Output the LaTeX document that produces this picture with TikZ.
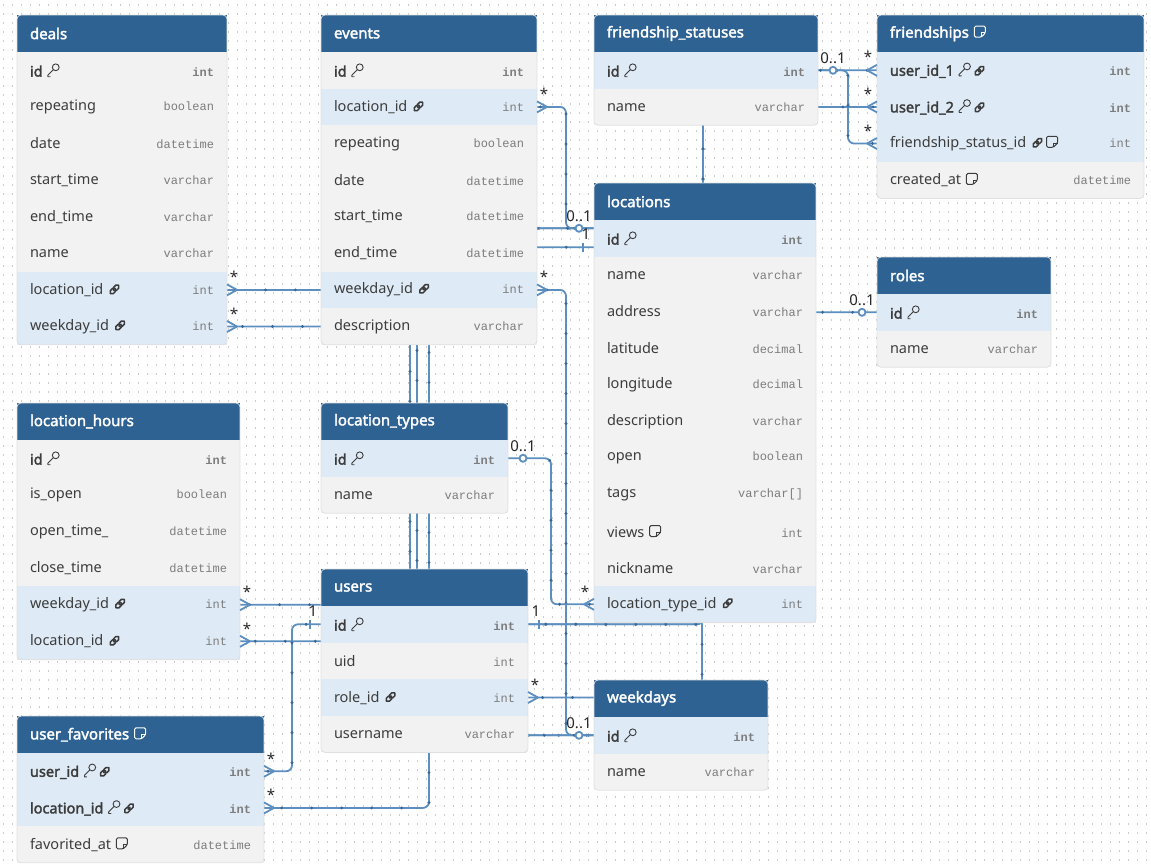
\documentclass[tikz,border=0pt]{standalone}
\usepackage{fontspec}
\usepackage{xcolor}
\newfontfamily\uifont{Noto Sans}[AutoFakeBold=2.2]
\newfontfamily\typefont{Liberation Mono}
\usetikzlibrary{positioning, calc, decorations.markings}
\definecolor{hdrcol}{RGB}{46,98,146}
\definecolor{rowcol}{RGB}{242,242,242}
\definecolor{hlcol}{RGB}{222,234,245}
\definecolor{linkcol}{RGB}{92,143,192}
\definecolor{dotcol}{RGB}{58,104,150}
\definecolor{txtcol}{RGB}{60,60,60}
\definecolor{typecol}{RGB}{125,125,125}
\pgfdeclarelayer{grid}
\pgfdeclarelayer{links}
\pgfsetlayers{grid,links,main}

% small icons
\newcommand{\pkicon}{\tikz[x=1pt,y=1pt,baseline=-0.5pt,line width=0.9pt,line cap=round,line join=round]{\draw (8.8,8.8) circle (3.4); \draw (6.4,6.4) -- (1,1) -- (1,-0.6) -- (3.2,-0.6);}}
\newcommand{\fkicon}{\tikz[x=1pt,y=1pt,baseline=-1pt,line width=1.5pt]{\draw[rounded corners=1.9pt,rotate=45] (0,-2.1) rectangle (6.8,2.1); \draw[rounded corners=1.9pt,rotate=45] (4.6,-2.1) rectangle (11.4,2.1);}}
\newcommand{\noteicon}{\tikz[x=1pt,y=1pt,baseline=-0.5pt,line width=1pt,line join=round]{\draw[rounded corners=1.4pt] (0,0) -- (0,11) -- (11,11) -- (11,4.2) -- (6.8,0) -- cycle; \draw (6.8,0) -- (6.8,4.2) -- (11,4.2);}}

% table: name, title, x, y, width, rows, fields
\newcommand{\dbtable}[7]{%
  \pgfmathsetmacro\tw{#5-26}
  \node[tblhead, minimum width=#5pt, text width=\tw pt] (#1) at (#3,#4) {#2};
  \foreach \f/\lbl/\typ/\kind [count=\i] in {#7} {
    \node[row\kind, minimum width=#5pt, text width=\tw pt] (#1-\f) at (#3,#4+37+\i*36.6-36.6)
      {\lbl\hfill{\typefont\fontsize{12}{12}\selectfont\color{typecol}\typ}};
  }
  \draw[tblframe] (#3,#4) rectangle (#3+#5,#4+37+#6*36.6);
}

% relation ends
\newcommand{\manyR}[1]{\draw[foot] (#1) ++(10,0) -- ++(-10,-5.5) (#1) ++(10,0) -- ++(-10,5.5);
  \node[mult] at ($(#1)+(7,-13)$) {*};}
\newcommand{\manyL}[1]{\draw[foot] (#1) ++(-10,0) -- ++(10,-5.5) (#1) ++(-10,0) -- ++(10,5.5);
  \node[mult] at ($(#1)+(-9,-13)$) {*};}
\newcommand{\optR}[1]{\draw[foot, fill=white] ($(#1)+(15,0)$) circle (3.5);
  \node[mult] at ($(#1)+(15,-12)$) {0..1};}
\newcommand{\optL}[1]{\draw[foot, fill=white] ($(#1)+(-15,0)$) circle (3.5);
  \node[mult] at ($(#1)+(-15,-12)$) {0..1};}
\newcommand{\oneR}[1]{\draw[foot] ($(#1)+(11,-4.5)$) -- ++(0,9);
  \node[mult] at ($(#1)+(8,-13)$) {1};}
\newcommand{\oneL}[1]{\draw[foot] ($(#1)+(-11,-4.5)$) -- ++(0,9);
  \node[mult] at ($(#1)+(-8,-13)$) {1};}

\begin{document}
\begin{tikzpicture}[
    x=1pt, y=-1pt,
    tblhead/.style={
      anchor=north west,
      fill=hdrcol,
      text=white,
      font=\uifont\bfseries\fontsize{15}{17}\selectfont,
      minimum height=37pt,
      inner xsep=13pt, inner ysep=0pt, outer sep=0pt
    },
    rowbase/.style={
      anchor=north west,
      minimum height=36.6pt,
      inner xsep=13pt, inner ysep=0pt, outer sep=0pt,
      text=txtcol,
      font=\uifont\fontsize{14.5}{17}\selectfont
    },
    rown/.style={rowbase, fill=rowcol},
    rowb/.style={rowbase, fill=rowcol, font=\uifont\bfseries\fontsize{14.5}{17}\selectfont},
    rowh/.style={rowbase, fill=hlcol},
    rowB/.style={rowbase, fill=hlcol, font=\uifont\bfseries\fontsize{14.5}{17}\selectfont},
    tblframe/.style={draw=black!12, line width=0.8pt, rounded corners=4pt},
    flow/.style={postaction={decorate, decoration={markings,
      mark=between positions 0.02 and 1 step 30pt with {\fill[dotcol] (0,0) circle (1.6pt);}}}},
    link/.style={draw=linkcol, line width=1.8pt, rounded corners=6pt, flow},
    foot/.style={draw=linkcol, line width=1.8pt},
    mult/.style={font=\uifont\fontsize{15}{15}\selectfont, text=black!85, inner sep=0pt},
    griddot/.style={draw=black!20, line width=1.2pt, dash pattern=on 1.2pt off 7.8pt}
  ]
  \useasboundingbox (0,0) rectangle (1151,867);
  \begin{pgfonlayer}{grid}
    \fill[white] (0,0) rectangle (1151,867);
    \foreach \y in {5,14,...,866} \draw[griddot] (3,\y) -- (1151,\y);
  \end{pgfonlayer}

  % Tables
  \dbtable{deals}{deals}{17}{15}{210}{8}{id/id \pkicon/int/b, rep/repeating/boolean/n,
    date/date/datetime/n, start/start\_time/varchar/n, end/end\_time/varchar/n,
    name/name/varchar/n, locid/location\_id \fkicon/int/h, wdid/weekday\_id \fkicon/int/h}
  \dbtable{events}{events}{321}{15}{216}{8}{id/id \pkicon/int/b, locid/location\_id \fkicon/int/h,
    rep/repeating/boolean/n, date/date/datetime/n, start/start\_time/datetime/n,
    end/end\_time/datetime/n, wdid/weekday\_id \fkicon/int/h, desc/description/varchar/n}
  \dbtable{fstat}{friendship\_statuses}{594}{15}{224}{2}{id/id \pkicon/int/B, name/name/varchar/n}
  \dbtable{friendships}{friendships \noteicon}{877}{15}{267}{4}{uid1/user\_id\_1 \pkicon\,\fkicon/int/B,
    uid2/user\_id\_2 \pkicon\,\fkicon/int/B, fsid/friendship\_status\_id \fkicon\,\noteicon/int/h,
    created/created\_at \noteicon/datetime/n}
  \dbtable{locations}{locations}{594}{183}{222}{11}{id/id \pkicon/int/B, name/name/varchar/n,
    addr/address/varchar/n, lat/latitude/decimal/n, lon/longitude/decimal/n,
    desc/description/varchar/n, open/open/boolean/n, tags/tags/varchar[]/n,
    views/views \noteicon/int/n, nick/nickname/varchar/n, ltid/location\_type\_id \fkicon/int/h}
  \dbtable{roles}{roles}{877}{257}{174}{2}{id/id \pkicon/int/B, name/name/varchar/n}
  \dbtable{lh}{location\_hours}{17}{403}{223}{6}{id/id \pkicon/int/b, isopen/is\_open/boolean/n,
    open/open\_time\_/datetime/n, close/close\_time/datetime/n,
    wdid/weekday\_id \fkicon/int/h, locid/location\_id \fkicon/int/h}
  \dbtable{lt}{location\_types}{321}{403}{187}{2}{id/id \pkicon/int/B, name/name/varchar/n}
  \dbtable{users}{users}{321}{569}{207}{4}{id/id \pkicon/int/B, uid/uid/int/n,
    roleid/role\_id \fkicon/int/h, uname/username/varchar/n}
  \dbtable{weekdays}{weekdays}{594}{680}{174}{2}{id/id \pkicon/int/B, name/name/varchar/n}
  \dbtable{uf}{user\_favorites \noteicon}{17}{716}{247}{3}{uid/user\_id \pkicon\,\fkicon/int/B,
    locid/location\_id \pkicon\,\fkicon/int/B, fav/favorited\_at \noteicon/datetime/n}

  \coordinate (locA) at ([yshift=10pt]locations-id.west);
  \coordinate (locB) at ([yshift=-9pt]locations-id.west);

  % Relations
  \begin{pgfonlayer}{links}
    \draw[link] (deals-locid.east) -| (480,250) |- (locA);
    \draw[link] (deals-wdid.east) -| (410,600) |- (weekdays-id.west);
    \draw[link] (events-locid.east) -| (566,170) |- (locA);
    \draw[link] (events-wdid.east) -| (566,500) |- (weekdays-id.west);
    \draw[link] (lh-wdid.east) -| (470,650) |- (weekdays-id.west);
    \draw[link] (lh-locid.east) -| (417,400) |- (locA);
    \draw[link] (uf-uid.east) -| (292,700) |- (users-id.west);
    \draw[link] (uf-locid.east) -| (429,500) |- (locB);
    \draw[link] (locations-ltid.west) -| (551,500) |- (lt-id.east);
    \draw[link] (users-roleid.east) -| (702,500) |- (roles-id.west);
    \draw[link] (users-id.east) -| (703,400) |- (friendships-uid2.west);
    \draw[link] (users-id.east) -| (703,400) |- (friendships-uid1.west);
    \draw[link] (fstat-id.east) -| (848,100) |- (friendships-fsid.west);
  \end{pgfonlayer}

  % Ends
  \manyR{deals-locid.east}
  \manyR{deals-wdid.east}
  \manyR{events-locid.east}
  \manyR{events-wdid.east}
  \manyR{lh-wdid.east}
  \manyR{lh-locid.east}
  \manyR{uf-uid.east}
  \manyR{uf-locid.east}
  \manyR{users-roleid.east}
  \manyL{locations-ltid.west}
  \manyL{friendships-uid1.west}
  \manyL{friendships-uid2.west}
  \manyL{friendships-fsid.west}
  \optL{locA}
  \optL{weekdays-id.west}
  \optR{lt-id.east}
  \optL{roles-id.west}
  \optR{fstat-id.east}
  \oneL{locB}
  \oneL{users-id.west}
  \oneR{users-id.east}
\end{tikzpicture}
\end{document}
